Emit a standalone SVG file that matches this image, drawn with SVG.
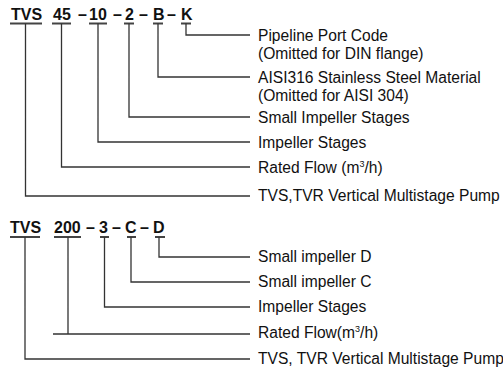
<svg xmlns="http://www.w3.org/2000/svg" width="503" height="369" viewBox="0 0 503 369">
<style>
.code{font-family:"Liberation Sans",Arial,sans-serif;font-size:16px;font-weight:bold;fill:#111}
.lbl{font-family:"Liberation Sans",Arial,sans-serif;font-size:15.6px;fill:#111}
.sup{font-size:9px}
.ul{stroke:#444;stroke-width:2;fill:none}
.cn{stroke:#333;stroke-width:1.3;fill:none}
</style>
<rect width="503" height="369" fill="#fff"/>
<g id="code1">
<text class="code" x="11" y="20">TVS</text>
<text class="code" x="53" y="20">45</text>
<text class="code" x="78" y="20">–</text>
<text class="code" x="89" y="20">10</text>
<text class="code" x="113" y="20">–</text>
<text class="code" x="125" y="20">2</text>
<text class="code" x="139" y="20">–</text>
<text class="code" x="153" y="20">B</text>
<text class="code" x="167" y="20">–</text>
<text class="code" x="181" y="20">K</text>
</g>
<g id="code2">
<text class="code" x="10" y="233">TVS</text>
<text class="code" x="54" y="233">200</text>
<text class="code" x="86" y="233">–</text>
<text class="code" x="99" y="233">3</text>
<text class="code" x="112" y="233">–</text>
<text class="code" x="125" y="233">C</text>
<text class="code" x="140" y="233">–</text>
<text class="code" x="153" y="233">D</text>
</g>
<g id="labels1">
<text class="lbl" x="258" y="41">Pipeline Port Code</text>
<text class="lbl" x="258" y="59">(Omitted for DIN flange)</text>
<text class="lbl" x="258" y="83">AISI316 Stainless Steel Material</text>
<text class="lbl" x="258" y="101">(Omitted for AISI 304)</text>
<text class="lbl" x="258" y="123">Small Impeller Stages</text>
<text class="lbl" x="258" y="148">Impeller Stages</text>
<text class="lbl" x="258" y="173">Rated Flow (m<tspan class="sup" dy="-6">3</tspan><tspan dy="6">/h)</tspan></text>
<text class="lbl" x="258" y="201">TVS,TVR Vertical Multistage Pump</text>
</g>
<g id="labels2">
<text class="lbl" x="258" y="262">Small impeller D</text>
<text class="lbl" x="258" y="287">Small impeller C</text>
<text class="lbl" x="258" y="312">Impeller Stages</text>
<text class="lbl" x="258" y="338">Rated Flow(m<tspan class="sup" dy="-6">3</tspan><tspan dy="6">/h)</tspan></text>
<text class="lbl" x="258" y="364">TVS, TVR Vertical Multistage Pump</text>
</g>
<g id="connectors">
<path class="ul" d="M10 23.5H42M52 23.5H71M89 23.5H107M124 23.5H134M153 23.5H163M181 23.5H191"/>
<path class="cn" d="M186 23.5V35H250M158 23.5V77H250M129 23.5V117H250M98 23.5V142H250M61.5 23.5V167H250M25.5 23.5V196H250"/>
<path class="ul" d="M10 237H40M54 237H81M100 237H109M127 237H136M155 237H165"/>
<path class="cn" d="M159 237V257H250M131 237V282H250M104.5 237V307H250M68 237V334M53 334H250M25 237V359H250"/>
</g>
</svg>
